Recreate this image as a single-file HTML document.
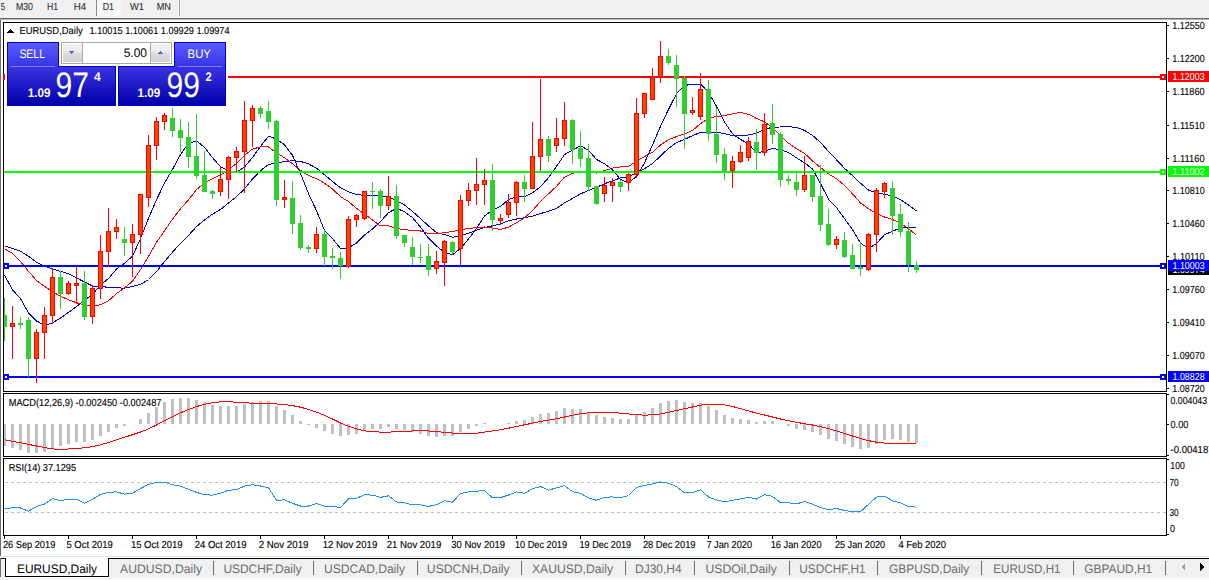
<!DOCTYPE html>
<html><head><meta charset="utf-8"><style>
html,body{margin:0;padding:0;width:1209px;height:580px;overflow:hidden;background:#fff;}
svg{display:block;font-family:"Liberation Sans",sans-serif;text-rendering:geometricPrecision;}
</style></head><body>
<svg width="1209" height="580" viewBox="0 0 1209 580" shape-rendering="crispEdges">
<rect x="0" y="0" width="1209" height="580" fill="#ffffff"/>
<rect x="0" y="0" width="1209" height="18" fill="#f0f0f0"/>
<rect x="97" y="0" width="24" height="16" fill="#f7f7f7"/>
<rect x="96" y="0" width="1" height="16" fill="#8a8a8a"/>
<rect x="179" y="0" width="1" height="16" fill="#a8a8a8"/>
<rect x="0" y="18" width="1209" height="1" fill="#6a6a6a"/>
<rect x="0" y="19" width="1209" height="1" fill="#b4b4b4"/>
<text x="0.7" y="10" font-size="10.2" fill="#333333" textLength="4.3" lengthAdjust="spacingAndGlyphs" stroke="#333333" stroke-width="0.12">5</text>
<text x="15.9" y="10" font-size="10.2" fill="#333333" textLength="17.1" lengthAdjust="spacingAndGlyphs" stroke="#333333" stroke-width="0.12">M30</text>
<text x="46.9" y="10" font-size="10.2" fill="#333333" textLength="11.1" lengthAdjust="spacingAndGlyphs" stroke="#333333" stroke-width="0.12">H1</text>
<text x="73.7" y="10" font-size="10.2" fill="#333333" textLength="12.3" lengthAdjust="spacingAndGlyphs" stroke="#333333" stroke-width="0.12">H4</text>
<text x="102.7" y="10" font-size="10.2" fill="#333333" textLength="11.3" lengthAdjust="spacingAndGlyphs" stroke="#333333" stroke-width="0.12">D1</text>
<text x="130" y="10" font-size="10.2" fill="#333333" textLength="14" lengthAdjust="spacingAndGlyphs" stroke="#333333" stroke-width="0.12">W1</text>
<text x="156.7" y="10" font-size="10.2" fill="#333333" textLength="14.3" lengthAdjust="spacingAndGlyphs" stroke="#333333" stroke-width="0.12">MN</text>
<rect x="0" y="20" width="1" height="536" fill="#6e6e6e"/>
<rect x="3" y="22" width="1164" height="1" fill="#000"/>
<rect x="3" y="391" width="1164" height="1" fill="#000"/>
<rect x="3" y="22" width="1" height="370" fill="#000"/>
<rect x="1166" y="22" width="1" height="370" fill="#000"/>
<rect x="3" y="393" width="1164" height="1" fill="#000"/>
<rect x="3" y="456" width="1164" height="1" fill="#000"/>
<rect x="3" y="393" width="1" height="64" fill="#000"/>
<rect x="1166" y="393" width="1" height="64" fill="#000"/>
<rect x="3" y="458" width="1164" height="1" fill="#000"/>
<rect x="3" y="535" width="1164" height="1" fill="#000"/>
<rect x="3" y="458" width="1" height="78" fill="#000"/>
<rect x="1166" y="458" width="1" height="78" fill="#000"/>
<rect x="1167" y="25" width="2" height="1" fill="#000"/>
<text x="1172.3" y="29" font-size="10.2" fill="#000" textLength="32.3" lengthAdjust="spacingAndGlyphs" stroke="#000" stroke-width="0.12">1.12550</text>
<rect x="1167" y="58" width="2" height="1" fill="#000"/>
<text x="1172.3" y="62" font-size="10.2" fill="#000" textLength="32.3" lengthAdjust="spacingAndGlyphs" stroke="#000" stroke-width="0.12">1.12200</text>
<rect x="1167" y="91" width="2" height="1" fill="#000"/>
<text x="1172.3" y="95" font-size="10.2" fill="#000" textLength="32.3" lengthAdjust="spacingAndGlyphs" stroke="#000" stroke-width="0.12">1.11860</text>
<rect x="1167" y="125" width="2" height="1" fill="#000"/>
<text x="1172.3" y="129" font-size="10.2" fill="#000" textLength="32.3" lengthAdjust="spacingAndGlyphs" stroke="#000" stroke-width="0.12">1.11510</text>
<rect x="1167" y="158" width="2" height="1" fill="#000"/>
<text x="1172.3" y="162" font-size="10.2" fill="#000" textLength="32.3" lengthAdjust="spacingAndGlyphs" stroke="#000" stroke-width="0.12">1.11160</text>
<rect x="1167" y="190" width="2" height="1" fill="#000"/>
<text x="1172.3" y="194" font-size="10.2" fill="#000" textLength="32.3" lengthAdjust="spacingAndGlyphs" stroke="#000" stroke-width="0.12">1.10810</text>
<rect x="1167" y="223" width="2" height="1" fill="#000"/>
<text x="1172.3" y="227" font-size="10.2" fill="#000" textLength="32.3" lengthAdjust="spacingAndGlyphs" stroke="#000" stroke-width="0.12">1.10460</text>
<rect x="1167" y="256" width="2" height="1" fill="#000"/>
<text x="1172.3" y="260" font-size="10.2" fill="#000" textLength="32.3" lengthAdjust="spacingAndGlyphs" stroke="#000" stroke-width="0.12">1.10110</text>
<rect x="1167" y="289" width="2" height="1" fill="#000"/>
<text x="1172.3" y="293" font-size="10.2" fill="#000" textLength="32.3" lengthAdjust="spacingAndGlyphs" stroke="#000" stroke-width="0.12">1.09760</text>
<rect x="1167" y="322" width="2" height="1" fill="#000"/>
<text x="1172.3" y="326" font-size="10.2" fill="#000" textLength="32.3" lengthAdjust="spacingAndGlyphs" stroke="#000" stroke-width="0.12">1.09410</text>
<rect x="1167" y="355" width="2" height="1" fill="#000"/>
<text x="1172.3" y="359" font-size="10.2" fill="#000" textLength="32.3" lengthAdjust="spacingAndGlyphs" stroke="#000" stroke-width="0.12">1.09070</text>
<rect x="1167" y="388" width="2" height="1" fill="#000"/>
<text x="1172.3" y="392" font-size="10.2" fill="#000" textLength="32.3" lengthAdjust="spacingAndGlyphs" stroke="#000" stroke-width="0.12">1.08720</text>
<rect x="4" y="536" width="1" height="3" fill="#000"/>
<text x="2.9000000000000004" y="548" font-size="10.2" fill="#000" textLength="52.4" lengthAdjust="spacingAndGlyphs" stroke="#000" stroke-width="0.12">26 Sep 2019</text>
<rect x="68" y="536" width="1" height="3" fill="#000"/>
<text x="66.4" y="548" font-size="10.2" fill="#000" textLength="46.5" lengthAdjust="spacingAndGlyphs" stroke="#000" stroke-width="0.12">5 Oct 2019</text>
<rect x="132" y="536" width="1" height="3" fill="#000"/>
<text x="130.89999999999998" y="548" font-size="10.2" fill="#000" textLength="51.6" lengthAdjust="spacingAndGlyphs" stroke="#000" stroke-width="0.12">15 Oct 2019</text>
<rect x="196" y="536" width="1" height="3" fill="#000"/>
<text x="194.7" y="548" font-size="10.2" fill="#000" textLength="51.8" lengthAdjust="spacingAndGlyphs" stroke="#000" stroke-width="0.12">24 Oct 2019</text>
<rect x="260" y="536" width="1" height="3" fill="#000"/>
<text x="258.7" y="548" font-size="10.2" fill="#000" textLength="49.8" lengthAdjust="spacingAndGlyphs" stroke="#000" stroke-width="0.12">2 Nov 2019</text>
<rect x="324" y="536" width="1" height="3" fill="#000"/>
<text x="322.7" y="548" font-size="10.2" fill="#000" textLength="54.6" lengthAdjust="spacingAndGlyphs" stroke="#000" stroke-width="0.12">12 Nov 2019</text>
<rect x="388" y="536" width="1" height="3" fill="#000"/>
<text x="386.7" y="548" font-size="10.2" fill="#000" textLength="54.6" lengthAdjust="spacingAndGlyphs" stroke="#000" stroke-width="0.12">21 Nov 2019</text>
<rect x="452" y="536" width="1" height="3" fill="#000"/>
<text x="451.2" y="548" font-size="10.2" fill="#000" textLength="53.9" lengthAdjust="spacingAndGlyphs" stroke="#000" stroke-width="0.12">30 Nov 2019</text>
<rect x="516" y="536" width="1" height="3" fill="#000"/>
<text x="514.9000000000001" y="548" font-size="10.2" fill="#000" textLength="52.2" lengthAdjust="spacingAndGlyphs" stroke="#000" stroke-width="0.12">10 Dec 2019</text>
<rect x="580" y="536" width="1" height="3" fill="#000"/>
<text x="579.5" y="548" font-size="10.2" fill="#000" textLength="51.6" lengthAdjust="spacingAndGlyphs" stroke="#000" stroke-width="0.12">19 Dec 2019</text>
<rect x="644" y="536" width="1" height="3" fill="#000"/>
<text x="642.9000000000001" y="548" font-size="10.2" fill="#000" textLength="52.6" lengthAdjust="spacingAndGlyphs" stroke="#000" stroke-width="0.12">28 Dec 2019</text>
<rect x="708" y="536" width="1" height="3" fill="#000"/>
<text x="706.4000000000001" y="548" font-size="10.2" fill="#000" textLength="45.7" lengthAdjust="spacingAndGlyphs" stroke="#000" stroke-width="0.12">7 Jan 2020</text>
<rect x="772" y="536" width="1" height="3" fill="#000"/>
<text x="770.7" y="548" font-size="10.2" fill="#000" textLength="51.0" lengthAdjust="spacingAndGlyphs" stroke="#000" stroke-width="0.12">16 Jan 2020</text>
<rect x="836" y="536" width="1" height="3" fill="#000"/>
<text x="834.9000000000001" y="548" font-size="10.2" fill="#000" textLength="50.3" lengthAdjust="spacingAndGlyphs" stroke="#000" stroke-width="0.12">25 Jan 2020</text>
<rect x="900" y="536" width="1" height="3" fill="#000"/>
<text x="898.4000000000001" y="548" font-size="10.2" fill="#000" textLength="47.7" lengthAdjust="spacingAndGlyphs" stroke="#000" stroke-width="0.12">4 Feb 2020</text>
<clipPath id="cm"><rect x="4" y="23" width="1162" height="368"/></clipPath><clipPath id="cd"><rect x="4" y="394" width="1162" height="62"/></clipPath><clipPath id="cr"><rect x="4" y="459" width="1162" height="76"/></clipPath>
<g clip-path="url(#cm)">
<polyline points="4.5,245.7 12.5,248.5 20.5,251.3 28.5,256.2 36.5,262.2 44.5,266.0 52.5,269.0 60.5,271.4 68.5,273.7 76.5,277.9 84.5,282.0 92.5,286.0 100.5,286.7 108.5,287.2 116.5,287.8 124.5,288.2 132.5,286.4 140.5,284.5 148.5,279.5 156.5,271.6 164.5,261.5 172.5,252.2 180.5,243.3 188.5,235.4 196.5,226.6 204.5,219.9 212.5,214.1 220.5,209.5 228.5,203.0 236.5,196.7 244.5,188.9 252.5,179.0 260.5,170.7 268.5,164.5 276.5,163.0 284.5,161.6 292.5,160.7 300.5,161.4 308.5,163.9 316.5,168.2 324.5,174.7 332.5,181.5 340.5,187.9 348.5,191.8 356.5,194.6 364.5,195.3 372.5,195.4 380.5,196.0 388.5,196.8 396.5,200.5 404.5,204.9 412.5,211.4 420.5,218.5 428.5,225.9 436.5,232.6 444.5,234.6 452.5,237.2 460.5,236.0 468.5,233.2 476.5,230.2 484.5,227.6 492.5,225.8 500.5,223.9 508.5,220.8 516.5,219.0 524.5,217.8 532.5,216.1 540.5,213.6 548.5,211.2 556.5,208.4 564.5,202.9 572.5,198.5 580.5,193.9 588.5,190.5 596.5,187.4 604.5,183.7 612.5,180.9 620.5,177.9 628.5,176.6 636.5,173.0 644.5,168.6 652.5,163.7 660.5,155.9 668.5,148.5 676.5,142.6 684.5,139.4 692.5,135.6 700.5,132.4 708.5,132.2 716.5,132.2 724.5,133.7 732.5,135.7 740.5,135.8 748.5,135.0 756.5,133.3 764.5,129.5 772.5,127.1 780.5,127.0 788.5,126.7 796.5,127.5 804.5,130.4 812.5,135.4 820.5,142.4 828.5,151.4 836.5,159.8 844.5,168.3 852.5,175.7 860.5,183.2 868.5,190.1 876.5,192.8 884.5,194.2 892.5,196.3 900.5,199.6 908.5,205.0 916.5,211.1" fill="none" stroke="#0000cd" stroke-width="1"/>
<polyline points="4.5,248.9 12.5,253.5 20.5,261.6 28.5,271.3 36.5,280.4 44.5,286.4 52.5,291.7 60.5,296.3 68.5,299.8 76.5,302.7 84.5,305.1 92.5,306.0 100.5,304.8 108.5,300.7 116.5,293.6 124.5,287.8 132.5,281.3 140.5,269.6 148.5,256.3 156.5,242.4 164.5,230.8 172.5,219.2 180.5,208.8 188.5,199.8 196.5,189.7 204.5,182.8 212.5,178.7 220.5,174.9 228.5,169.9 236.5,163.4 244.5,155.3 252.5,149.1 260.5,146.9 268.5,146.9 276.5,152.9 284.5,157.7 292.5,163.8 300.5,170.4 308.5,175.5 316.5,178.6 324.5,183.2 332.5,188.9 340.5,196.7 348.5,201.5 356.5,208.3 364.5,214.2 372.5,219.9 380.5,225.9 388.5,225.7 396.5,228.4 404.5,229.8 412.5,230.3 420.5,231.0 428.5,233.5 436.5,233.8 444.5,232.6 452.5,231.5 460.5,230.1 468.5,228.3 476.5,227.8 484.5,227.0 492.5,227.9 500.5,229.5 508.5,227.1 516.5,222.7 524.5,217.9 532.5,210.6 540.5,201.3 548.5,193.8 556.5,186.4 564.5,177.1 572.5,173.5 580.5,171.3 588.5,171.4 596.5,173.1 604.5,170.6 612.5,168.1 620.5,167.0 628.5,166.5 636.5,161.1 644.5,156.6 652.5,152.2 660.5,145.0 668.5,139.6 676.5,136.6 684.5,134.0 692.5,130.5 700.5,123.6 708.5,118.6 716.5,116.4 724.5,115.7 732.5,113.8 740.5,112.3 748.5,114.3 756.5,118.5 764.5,121.8 772.5,127.4 780.5,135.9 788.5,143.2 796.5,148.6 804.5,153.3 812.5,161.0 820.5,167.5 828.5,173.9 836.5,178.7 844.5,185.5 852.5,193.8 860.5,202.9 868.5,208.8 876.5,213.5 884.5,217.0 892.5,219.5 900.5,223.2 908.5,228.6 916.5,235.3" fill="none" stroke="#ff0000" stroke-width="1"/>
<polyline points="4.5,275.1 12.5,289.9 20.5,298.6 28.5,313.0 36.5,321.0 44.5,325.3 52.5,322.8 60.5,318.1 68.5,312.4 76.5,306.5 84.5,300.5 92.5,294.2 100.5,285.1 108.5,278.5 116.5,269.0 124.5,263.2 132.5,256.2 140.5,238.6 148.5,218.3 156.5,199.7 164.5,183.1 172.5,169.4 180.5,154.5 188.5,143.4 196.5,140.8 204.5,147.3 212.5,157.6 220.5,166.8 228.5,170.5 236.5,172.4 244.5,167.1 252.5,157.5 260.5,146.4 268.5,136.2 276.5,139.1 284.5,144.8 292.5,155.3 300.5,173.6 308.5,193.6 316.5,210.8 324.5,230.2 332.5,238.6 340.5,248.5 348.5,247.8 356.5,243.0 364.5,234.9 372.5,228.9 380.5,221.6 388.5,212.7 396.5,208.3 404.5,211.7 412.5,217.6 420.5,227.2 428.5,238.1 436.5,246.0 444.5,252.5 452.5,254.7 460.5,248.6 468.5,239.0 476.5,228.5 484.5,215.9 492.5,209.9 500.5,206.5 508.5,199.5 516.5,196.8 524.5,196.7 532.5,192.7 540.5,186.8 548.5,177.7 556.5,166.4 564.5,154.6 572.5,150.1 580.5,145.8 588.5,150.2 596.5,159.5 604.5,163.6 612.5,169.8 620.5,179.5 628.5,182.9 636.5,176.3 644.5,163.0 652.5,144.9 660.5,126.5 668.5,109.4 676.5,93.8 684.5,85.2 692.5,84.7 700.5,84.1 708.5,92.3 716.5,106.4 724.5,122.0 732.5,133.8 740.5,139.4 748.5,143.8 756.5,152.9 764.5,151.4 772.5,148.5 780.5,149.7 788.5,152.5 796.5,157.9 804.5,162.8 812.5,169.0 820.5,183.5 828.5,199.2 836.5,207.6 844.5,218.6 852.5,229.7 860.5,243.1 868.5,248.5 876.5,243.5 884.5,234.7 892.5,231.4 900.5,227.8 908.5,227.4 916.5,227.5" fill="none" stroke="#0000cd" stroke-width="1"/>
</g>
<rect x="4" y="76" width="1162" height="2" fill="#ff0000"/>
<rect x="1160" y="74" width="6" height="6" fill="#ff0000"/>
<rect x="1162" y="76" width="2" height="2" fill="#fff"/>
<rect x="1168" y="71" width="41" height="11" fill="#ff0000"/>
<text x="1172.5" y="80" font-size="10.2" fill="#fff" textLength="32.1" lengthAdjust="spacingAndGlyphs">1.12003</text>
<rect x="4" y="171" width="1162" height="2" fill="#00ff00"/>
<rect x="1160" y="169" width="6" height="6" fill="#00ff00"/>
<rect x="1162" y="171" width="2" height="2" fill="#fff"/>
<rect x="1168" y="166" width="41" height="11" fill="#00ff00"/>
<text x="1172.5" y="175" font-size="10.2" fill="#fff" textLength="32.1" lengthAdjust="spacingAndGlyphs">1.11002</text>
<rect x="1168" y="264" width="41" height="11" fill="#000"/>
<text x="1172.5" y="273" font-size="10.2" fill="#fff" textLength="32.1" lengthAdjust="spacingAndGlyphs">1.09974</text>
<rect x="4" y="265" width="1162" height="2" fill="#0000ff"/>
<rect x="1160" y="263" width="6" height="6" fill="#0000ff"/>
<rect x="1162" y="265" width="2" height="2" fill="#fff"/>
<rect x="1168" y="260" width="41" height="11" fill="#0000ff"/>
<text x="1172.5" y="269" font-size="10.2" fill="#fff" textLength="32.1" lengthAdjust="spacingAndGlyphs">1.10003</text>
<rect x="4" y="376" width="1162" height="2" fill="#0000ff"/>
<rect x="1160" y="374" width="6" height="6" fill="#0000ff"/>
<rect x="1162" y="376" width="2" height="2" fill="#fff"/>
<rect x="1168" y="371" width="41" height="11" fill="#0000ff"/>
<text x="1172.5" y="380" font-size="10.2" fill="#fff" textLength="32.1" lengthAdjust="spacingAndGlyphs">1.08828</text>
<rect x="3" y="263" width="6" height="6" fill="#0000ff"/>
<rect x="5" y="265" width="2" height="2" fill="#fff"/>
<rect x="3" y="374" width="6" height="6" fill="#0000ff"/>
<rect x="5" y="376" width="2" height="2" fill="#fff"/>
<rect x="3" y="74" width="2" height="6" fill="#ff0000"/>
<g clip-path="url(#cm)">
<rect x="4" y="298" width="1" height="43" fill="#32cd32"/>
<rect x="2" y="315" width="5" height="12" fill="#32cd32"/>
<rect x="12" y="306" width="1" height="53" fill="#ff0000"/>
<rect x="10" y="323" width="5" height="4" fill="#ff0000"/>
<rect x="11" y="324" width="3" height="2" fill="#ff4500"/>
<rect x="20" y="317" width="1" height="12" fill="#32cd32"/>
<rect x="18" y="323" width="5" height="2" fill="#32cd32"/>
<rect x="28" y="317" width="1" height="60" fill="#32cd32"/>
<rect x="26" y="320" width="5" height="39" fill="#32cd32"/>
<rect x="36" y="329" width="1" height="54" fill="#ff0000"/>
<rect x="34" y="332" width="5" height="27" fill="#ff0000"/>
<rect x="35" y="333" width="3" height="25" fill="#ff4500"/>
<rect x="44" y="307" width="1" height="52" fill="#ff0000"/>
<rect x="42" y="315" width="5" height="18" fill="#ff0000"/>
<rect x="43" y="316" width="3" height="16" fill="#ff4500"/>
<rect x="52" y="268" width="1" height="56" fill="#ff0000"/>
<rect x="50" y="277" width="5" height="39" fill="#ff0000"/>
<rect x="51" y="278" width="3" height="37" fill="#ff4500"/>
<rect x="60" y="271" width="1" height="38" fill="#32cd32"/>
<rect x="58" y="277" width="5" height="17" fill="#32cd32"/>
<rect x="68" y="281" width="1" height="14" fill="#ff0000"/>
<rect x="66" y="283" width="5" height="11" fill="#ff0000"/>
<rect x="67" y="284" width="3" height="9" fill="#ff4500"/>
<rect x="76" y="267" width="1" height="37" fill="#ff0000"/>
<rect x="74" y="283" width="5" height="3" fill="#ff0000"/>
<rect x="75" y="284" width="3" height="1" fill="#ff4500"/>
<rect x="84" y="271" width="1" height="49" fill="#32cd32"/>
<rect x="82" y="283" width="5" height="34" fill="#32cd32"/>
<rect x="92" y="285" width="1" height="39" fill="#ff0000"/>
<rect x="90" y="288" width="5" height="29" fill="#ff0000"/>
<rect x="91" y="289" width="3" height="27" fill="#ff4500"/>
<rect x="100" y="235" width="1" height="64" fill="#ff0000"/>
<rect x="98" y="251" width="5" height="38" fill="#ff0000"/>
<rect x="99" y="252" width="3" height="36" fill="#ff4500"/>
<rect x="108" y="208" width="1" height="59" fill="#ff0000"/>
<rect x="106" y="231" width="5" height="21" fill="#ff0000"/>
<rect x="107" y="232" width="3" height="19" fill="#ff4500"/>
<rect x="116" y="219" width="1" height="20" fill="#ff0000"/>
<rect x="114" y="227" width="5" height="5" fill="#ff0000"/>
<rect x="115" y="228" width="3" height="3" fill="#ff4500"/>
<rect x="124" y="227" width="1" height="29" fill="#32cd32"/>
<rect x="122" y="239" width="5" height="4" fill="#32cd32"/>
<rect x="132" y="224" width="1" height="53" fill="#ff0000"/>
<rect x="130" y="234" width="5" height="9" fill="#ff0000"/>
<rect x="131" y="235" width="3" height="7" fill="#ff4500"/>
<rect x="140" y="194" width="1" height="60" fill="#ff0000"/>
<rect x="138" y="194" width="5" height="41" fill="#ff0000"/>
<rect x="139" y="195" width="3" height="39" fill="#ff4500"/>
<rect x="148" y="135" width="1" height="72" fill="#ff0000"/>
<rect x="146" y="145" width="5" height="53" fill="#ff0000"/>
<rect x="147" y="146" width="3" height="51" fill="#ff4500"/>
<rect x="156" y="117" width="1" height="43" fill="#ff0000"/>
<rect x="154" y="121" width="5" height="25" fill="#ff0000"/>
<rect x="155" y="122" width="3" height="23" fill="#ff4500"/>
<rect x="164" y="113" width="1" height="17" fill="#ff0000"/>
<rect x="162" y="115" width="5" height="7" fill="#ff0000"/>
<rect x="163" y="116" width="3" height="5" fill="#ff4500"/>
<rect x="172" y="108" width="1" height="29" fill="#32cd32"/>
<rect x="170" y="118" width="5" height="13" fill="#32cd32"/>
<rect x="180" y="119" width="1" height="33" fill="#32cd32"/>
<rect x="178" y="130" width="5" height="8" fill="#32cd32"/>
<rect x="188" y="122" width="1" height="46" fill="#32cd32"/>
<rect x="186" y="137" width="5" height="20" fill="#32cd32"/>
<rect x="196" y="114" width="1" height="65" fill="#32cd32"/>
<rect x="194" y="156" width="5" height="20" fill="#32cd32"/>
<rect x="204" y="151" width="1" height="41" fill="#32cd32"/>
<rect x="202" y="175" width="5" height="17" fill="#32cd32"/>
<rect x="212" y="190" width="1" height="9" fill="#32cd32"/>
<rect x="210" y="191" width="5" height="3" fill="#32cd32"/>
<rect x="220" y="166" width="1" height="30" fill="#ff0000"/>
<rect x="218" y="179" width="5" height="13" fill="#ff0000"/>
<rect x="219" y="180" width="3" height="11" fill="#ff4500"/>
<rect x="228" y="156" width="1" height="43" fill="#ff0000"/>
<rect x="226" y="157" width="5" height="23" fill="#ff0000"/>
<rect x="227" y="158" width="3" height="21" fill="#ff4500"/>
<rect x="236" y="147" width="1" height="25" fill="#ff0000"/>
<rect x="234" y="151" width="5" height="7" fill="#ff0000"/>
<rect x="235" y="152" width="3" height="5" fill="#ff4500"/>
<rect x="244" y="101" width="1" height="92" fill="#ff0000"/>
<rect x="242" y="120" width="5" height="32" fill="#ff0000"/>
<rect x="243" y="121" width="3" height="30" fill="#ff4500"/>
<rect x="252" y="105" width="1" height="42" fill="#ff0000"/>
<rect x="250" y="108" width="5" height="13" fill="#ff0000"/>
<rect x="251" y="109" width="3" height="11" fill="#ff4500"/>
<rect x="260" y="106" width="1" height="12" fill="#32cd32"/>
<rect x="258" y="108" width="5" height="6" fill="#32cd32"/>
<rect x="268" y="101" width="1" height="28" fill="#32cd32"/>
<rect x="266" y="111" width="5" height="11" fill="#32cd32"/>
<rect x="276" y="120" width="1" height="86" fill="#32cd32"/>
<rect x="274" y="121" width="5" height="79" fill="#32cd32"/>
<rect x="284" y="180" width="1" height="28" fill="#ff0000"/>
<rect x="282" y="197" width="5" height="3" fill="#ff0000"/>
<rect x="283" y="198" width="3" height="1" fill="#ff4500"/>
<rect x="292" y="181" width="1" height="53" fill="#32cd32"/>
<rect x="290" y="198" width="5" height="26" fill="#32cd32"/>
<rect x="300" y="215" width="1" height="35" fill="#32cd32"/>
<rect x="298" y="223" width="5" height="25" fill="#32cd32"/>
<rect x="308" y="245" width="1" height="8" fill="#32cd32"/>
<rect x="306" y="247" width="5" height="2" fill="#32cd32"/>
<rect x="316" y="227" width="1" height="26" fill="#ff0000"/>
<rect x="314" y="234" width="5" height="15" fill="#ff0000"/>
<rect x="315" y="235" width="3" height="13" fill="#ff4500"/>
<rect x="324" y="230" width="1" height="36" fill="#32cd32"/>
<rect x="322" y="234" width="5" height="23" fill="#32cd32"/>
<rect x="332" y="248" width="1" height="21" fill="#32cd32"/>
<rect x="330" y="256" width="5" height="2" fill="#32cd32"/>
<rect x="340" y="252" width="1" height="27" fill="#32cd32"/>
<rect x="338" y="258" width="5" height="8" fill="#32cd32"/>
<rect x="348" y="216" width="1" height="52" fill="#ff0000"/>
<rect x="346" y="219" width="5" height="48" fill="#ff0000"/>
<rect x="347" y="220" width="3" height="46" fill="#ff4500"/>
<rect x="356" y="214" width="1" height="13" fill="#ff0000"/>
<rect x="354" y="215" width="5" height="5" fill="#ff0000"/>
<rect x="355" y="216" width="3" height="3" fill="#ff4500"/>
<rect x="364" y="191" width="1" height="29" fill="#ff0000"/>
<rect x="362" y="191" width="5" height="28" fill="#ff0000"/>
<rect x="363" y="192" width="3" height="26" fill="#ff4500"/>
<rect x="372" y="182" width="1" height="27" fill="#32cd32"/>
<rect x="370" y="191" width="5" height="1" fill="#32cd32"/>
<rect x="380" y="189" width="1" height="29" fill="#32cd32"/>
<rect x="378" y="191" width="5" height="15" fill="#32cd32"/>
<rect x="388" y="176" width="1" height="34" fill="#ff0000"/>
<rect x="386" y="196" width="5" height="10" fill="#ff0000"/>
<rect x="387" y="197" width="3" height="8" fill="#ff4500"/>
<rect x="396" y="185" width="1" height="54" fill="#32cd32"/>
<rect x="394" y="196" width="5" height="40" fill="#32cd32"/>
<rect x="404" y="235" width="1" height="12" fill="#32cd32"/>
<rect x="402" y="235" width="5" height="8" fill="#32cd32"/>
<rect x="412" y="237" width="1" height="28" fill="#32cd32"/>
<rect x="410" y="247" width="5" height="10" fill="#32cd32"/>
<rect x="420" y="244" width="1" height="19" fill="#32cd32"/>
<rect x="418" y="257" width="5" height="1" fill="#32cd32"/>
<rect x="428" y="244" width="1" height="32" fill="#32cd32"/>
<rect x="426" y="256" width="5" height="14" fill="#32cd32"/>
<rect x="436" y="251" width="1" height="23" fill="#ff0000"/>
<rect x="434" y="261" width="5" height="8" fill="#ff0000"/>
<rect x="435" y="262" width="3" height="6" fill="#ff4500"/>
<rect x="444" y="240" width="1" height="46" fill="#ff0000"/>
<rect x="442" y="241" width="5" height="22" fill="#ff0000"/>
<rect x="443" y="242" width="3" height="20" fill="#ff4500"/>
<rect x="452" y="241" width="1" height="14" fill="#32cd32"/>
<rect x="450" y="242" width="5" height="10" fill="#32cd32"/>
<rect x="460" y="195" width="1" height="71" fill="#ff0000"/>
<rect x="458" y="200" width="5" height="49" fill="#ff0000"/>
<rect x="459" y="201" width="3" height="47" fill="#ff4500"/>
<rect x="468" y="183" width="1" height="23" fill="#ff0000"/>
<rect x="466" y="190" width="5" height="11" fill="#ff0000"/>
<rect x="467" y="191" width="3" height="9" fill="#ff4500"/>
<rect x="476" y="158" width="1" height="47" fill="#ff0000"/>
<rect x="474" y="184" width="5" height="7" fill="#ff0000"/>
<rect x="475" y="185" width="3" height="5" fill="#ff4500"/>
<rect x="484" y="169" width="1" height="36" fill="#ff0000"/>
<rect x="482" y="180" width="5" height="5" fill="#ff0000"/>
<rect x="483" y="181" width="3" height="3" fill="#ff4500"/>
<rect x="492" y="164" width="1" height="67" fill="#32cd32"/>
<rect x="490" y="180" width="5" height="40" fill="#32cd32"/>
<rect x="500" y="214" width="1" height="11" fill="#ff0000"/>
<rect x="498" y="218" width="5" height="3" fill="#ff0000"/>
<rect x="499" y="219" width="3" height="1" fill="#ff4500"/>
<rect x="508" y="194" width="1" height="24" fill="#ff0000"/>
<rect x="506" y="202" width="5" height="13" fill="#ff0000"/>
<rect x="507" y="203" width="3" height="11" fill="#ff4500"/>
<rect x="516" y="181" width="1" height="35" fill="#ff0000"/>
<rect x="514" y="182" width="5" height="21" fill="#ff0000"/>
<rect x="515" y="183" width="3" height="19" fill="#ff4500"/>
<rect x="524" y="175" width="1" height="27" fill="#32cd32"/>
<rect x="522" y="182" width="5" height="7" fill="#32cd32"/>
<rect x="532" y="122" width="1" height="67" fill="#ff0000"/>
<rect x="530" y="156" width="5" height="33" fill="#ff0000"/>
<rect x="531" y="157" width="3" height="31" fill="#ff4500"/>
<rect x="540" y="79" width="1" height="92" fill="#ff0000"/>
<rect x="538" y="139" width="5" height="18" fill="#ff0000"/>
<rect x="539" y="140" width="3" height="16" fill="#ff4500"/>
<rect x="548" y="136" width="1" height="26" fill="#32cd32"/>
<rect x="546" y="139" width="5" height="17" fill="#32cd32"/>
<rect x="556" y="118" width="1" height="34" fill="#ff0000"/>
<rect x="554" y="138" width="5" height="8" fill="#ff0000"/>
<rect x="555" y="139" width="3" height="6" fill="#ff4500"/>
<rect x="564" y="102" width="1" height="44" fill="#ff0000"/>
<rect x="562" y="120" width="5" height="19" fill="#ff0000"/>
<rect x="563" y="121" width="3" height="17" fill="#ff4500"/>
<rect x="572" y="119" width="1" height="45" fill="#32cd32"/>
<rect x="570" y="120" width="5" height="30" fill="#32cd32"/>
<rect x="580" y="131" width="1" height="36" fill="#32cd32"/>
<rect x="578" y="148" width="5" height="11" fill="#32cd32"/>
<rect x="588" y="144" width="1" height="47" fill="#32cd32"/>
<rect x="586" y="158" width="5" height="29" fill="#32cd32"/>
<rect x="596" y="186" width="1" height="19" fill="#32cd32"/>
<rect x="594" y="186" width="5" height="18" fill="#32cd32"/>
<rect x="604" y="177" width="1" height="25" fill="#ff0000"/>
<rect x="602" y="185" width="5" height="9" fill="#ff0000"/>
<rect x="603" y="186" width="3" height="7" fill="#ff4500"/>
<rect x="612" y="178" width="1" height="24" fill="#ff0000"/>
<rect x="610" y="182" width="5" height="4" fill="#ff0000"/>
<rect x="611" y="183" width="3" height="2" fill="#ff4500"/>
<rect x="620" y="180" width="1" height="12" fill="#32cd32"/>
<rect x="618" y="182" width="5" height="5" fill="#32cd32"/>
<rect x="628" y="173" width="1" height="18" fill="#ff0000"/>
<rect x="626" y="174" width="5" height="9" fill="#ff0000"/>
<rect x="627" y="175" width="3" height="7" fill="#ff4500"/>
<rect x="636" y="98" width="1" height="80" fill="#ff0000"/>
<rect x="634" y="113" width="5" height="62" fill="#ff0000"/>
<rect x="635" y="114" width="3" height="60" fill="#ff4500"/>
<rect x="644" y="93" width="1" height="25" fill="#ff0000"/>
<rect x="642" y="93" width="5" height="21" fill="#ff0000"/>
<rect x="643" y="94" width="3" height="19" fill="#ff4500"/>
<rect x="652" y="68" width="1" height="32" fill="#ff0000"/>
<rect x="650" y="77" width="5" height="23" fill="#ff0000"/>
<rect x="651" y="78" width="3" height="21" fill="#ff4500"/>
<rect x="660" y="41" width="1" height="42" fill="#ff0000"/>
<rect x="658" y="56" width="5" height="21" fill="#ff0000"/>
<rect x="659" y="57" width="3" height="19" fill="#ff4500"/>
<rect x="668" y="49" width="1" height="16" fill="#32cd32"/>
<rect x="666" y="56" width="5" height="7" fill="#32cd32"/>
<rect x="676" y="55" width="1" height="52" fill="#32cd32"/>
<rect x="674" y="65" width="5" height="14" fill="#32cd32"/>
<rect x="684" y="76" width="1" height="73" fill="#32cd32"/>
<rect x="682" y="78" width="5" height="36" fill="#32cd32"/>
<rect x="692" y="97" width="1" height="18" fill="#ff0000"/>
<rect x="690" y="110" width="5" height="3" fill="#ff0000"/>
<rect x="691" y="111" width="3" height="1" fill="#ff4500"/>
<rect x="700" y="73" width="1" height="47" fill="#ff0000"/>
<rect x="698" y="89" width="5" height="28" fill="#ff0000"/>
<rect x="699" y="90" width="3" height="26" fill="#ff4500"/>
<rect x="708" y="80" width="1" height="61" fill="#32cd32"/>
<rect x="706" y="89" width="5" height="45" fill="#32cd32"/>
<rect x="716" y="108" width="1" height="55" fill="#32cd32"/>
<rect x="714" y="134" width="5" height="21" fill="#32cd32"/>
<rect x="724" y="148" width="1" height="32" fill="#32cd32"/>
<rect x="722" y="154" width="5" height="18" fill="#32cd32"/>
<rect x="732" y="156" width="1" height="32" fill="#ff0000"/>
<rect x="730" y="161" width="5" height="10" fill="#ff0000"/>
<rect x="731" y="162" width="3" height="8" fill="#ff4500"/>
<rect x="740" y="145" width="1" height="18" fill="#ff0000"/>
<rect x="738" y="152" width="5" height="10" fill="#ff0000"/>
<rect x="739" y="153" width="3" height="8" fill="#ff4500"/>
<rect x="748" y="137" width="1" height="24" fill="#ff0000"/>
<rect x="746" y="141" width="5" height="17" fill="#ff0000"/>
<rect x="747" y="142" width="3" height="15" fill="#ff4500"/>
<rect x="756" y="129" width="1" height="41" fill="#32cd32"/>
<rect x="754" y="142" width="5" height="11" fill="#32cd32"/>
<rect x="764" y="113" width="1" height="43" fill="#ff0000"/>
<rect x="762" y="124" width="5" height="29" fill="#ff0000"/>
<rect x="763" y="125" width="3" height="27" fill="#ff4500"/>
<rect x="772" y="104" width="1" height="40" fill="#32cd32"/>
<rect x="770" y="123" width="5" height="12" fill="#32cd32"/>
<rect x="780" y="132" width="1" height="55" fill="#32cd32"/>
<rect x="778" y="134" width="5" height="46" fill="#32cd32"/>
<rect x="788" y="175" width="1" height="10" fill="#32cd32"/>
<rect x="786" y="179" width="5" height="2" fill="#32cd32"/>
<rect x="796" y="171" width="1" height="25" fill="#32cd32"/>
<rect x="794" y="182" width="5" height="8" fill="#32cd32"/>
<rect x="804" y="156" width="1" height="36" fill="#ff0000"/>
<rect x="802" y="175" width="5" height="15" fill="#ff0000"/>
<rect x="803" y="176" width="3" height="13" fill="#ff4500"/>
<rect x="812" y="175" width="1" height="27" fill="#32cd32"/>
<rect x="810" y="175" width="5" height="22" fill="#32cd32"/>
<rect x="820" y="165" width="1" height="66" fill="#32cd32"/>
<rect x="818" y="196" width="5" height="29" fill="#32cd32"/>
<rect x="828" y="209" width="1" height="37" fill="#32cd32"/>
<rect x="826" y="224" width="5" height="21" fill="#32cd32"/>
<rect x="836" y="236" width="1" height="13" fill="#ff0000"/>
<rect x="834" y="239" width="5" height="6" fill="#ff0000"/>
<rect x="835" y="240" width="3" height="4" fill="#ff4500"/>
<rect x="844" y="232" width="1" height="26" fill="#32cd32"/>
<rect x="842" y="240" width="5" height="17" fill="#32cd32"/>
<rect x="852" y="244" width="1" height="24" fill="#32cd32"/>
<rect x="850" y="255" width="5" height="14" fill="#32cd32"/>
<rect x="860" y="242" width="1" height="34" fill="#32cd32"/>
<rect x="858" y="267" width="5" height="2" fill="#32cd32"/>
<rect x="868" y="233" width="1" height="38" fill="#ff0000"/>
<rect x="866" y="234" width="5" height="36" fill="#ff0000"/>
<rect x="867" y="235" width="3" height="34" fill="#ff4500"/>
<rect x="876" y="188" width="1" height="64" fill="#ff0000"/>
<rect x="874" y="190" width="5" height="45" fill="#ff0000"/>
<rect x="875" y="191" width="3" height="43" fill="#ff4500"/>
<rect x="884" y="182" width="1" height="16" fill="#ff0000"/>
<rect x="882" y="183" width="5" height="9" fill="#ff0000"/>
<rect x="883" y="184" width="3" height="7" fill="#ff4500"/>
<rect x="892" y="181" width="1" height="54" fill="#32cd32"/>
<rect x="890" y="188" width="5" height="28" fill="#32cd32"/>
<rect x="900" y="204" width="1" height="33" fill="#32cd32"/>
<rect x="898" y="214" width="5" height="18" fill="#32cd32"/>
<rect x="908" y="222" width="1" height="50" fill="#32cd32"/>
<rect x="906" y="231" width="5" height="34" fill="#32cd32"/>
<rect x="916" y="261" width="1" height="12" fill="#32cd32"/>
<rect x="914" y="265" width="5" height="5" fill="#32cd32"/>
</g>
<g clip-path="url(#cd)">
<rect x="3" y="424" width="3" height="22" fill="#c0c0c0"/>
<rect x="11" y="424" width="3" height="24" fill="#c0c0c0"/>
<rect x="19" y="424" width="3" height="26" fill="#c0c0c0"/>
<rect x="27" y="424" width="3" height="29" fill="#c0c0c0"/>
<rect x="35" y="424" width="3" height="29" fill="#c0c0c0"/>
<rect x="43" y="424" width="3" height="28" fill="#c0c0c0"/>
<rect x="51" y="424" width="3" height="24" fill="#c0c0c0"/>
<rect x="59" y="424" width="3" height="22" fill="#c0c0c0"/>
<rect x="67" y="424" width="3" height="20" fill="#c0c0c0"/>
<rect x="75" y="424" width="3" height="18" fill="#c0c0c0"/>
<rect x="83" y="424" width="3" height="18" fill="#c0c0c0"/>
<rect x="91" y="424" width="3" height="16" fill="#c0c0c0"/>
<rect x="99" y="424" width="3" height="12" fill="#c0c0c0"/>
<rect x="107" y="424" width="3" height="8" fill="#c0c0c0"/>
<rect x="115" y="424" width="3" height="4" fill="#c0c0c0"/>
<rect x="123" y="424" width="3" height="2" fill="#c0c0c0"/>
<rect x="139" y="419" width="3" height="5" fill="#c0c0c0"/>
<rect x="147" y="413" width="3" height="11" fill="#c0c0c0"/>
<rect x="155" y="407" width="3" height="17" fill="#c0c0c0"/>
<rect x="163" y="402" width="3" height="22" fill="#c0c0c0"/>
<rect x="171" y="399" width="3" height="25" fill="#c0c0c0"/>
<rect x="179" y="398" width="3" height="26" fill="#c0c0c0"/>
<rect x="187" y="398" width="3" height="26" fill="#c0c0c0"/>
<rect x="195" y="400" width="3" height="24" fill="#c0c0c0"/>
<rect x="203" y="402" width="3" height="22" fill="#c0c0c0"/>
<rect x="211" y="405" width="3" height="19" fill="#c0c0c0"/>
<rect x="219" y="406" width="3" height="18" fill="#c0c0c0"/>
<rect x="227" y="406" width="3" height="18" fill="#c0c0c0"/>
<rect x="235" y="406" width="3" height="18" fill="#c0c0c0"/>
<rect x="243" y="404" width="3" height="20" fill="#c0c0c0"/>
<rect x="251" y="402" width="3" height="22" fill="#c0c0c0"/>
<rect x="259" y="401" width="3" height="23" fill="#c0c0c0"/>
<rect x="267" y="401" width="3" height="23" fill="#c0c0c0"/>
<rect x="275" y="406" width="3" height="18" fill="#c0c0c0"/>
<rect x="283" y="410" width="3" height="14" fill="#c0c0c0"/>
<rect x="291" y="415" width="3" height="9" fill="#c0c0c0"/>
<rect x="299" y="421" width="3" height="3" fill="#c0c0c0"/>
<rect x="307" y="424" width="3" height="1" fill="#c0c0c0"/>
<rect x="315" y="424" width="3" height="4" fill="#c0c0c0"/>
<rect x="323" y="424" width="3" height="7" fill="#c0c0c0"/>
<rect x="331" y="424" width="3" height="10" fill="#c0c0c0"/>
<rect x="339" y="424" width="3" height="12" fill="#c0c0c0"/>
<rect x="347" y="424" width="3" height="11" fill="#c0c0c0"/>
<rect x="355" y="424" width="3" height="10" fill="#c0c0c0"/>
<rect x="363" y="424" width="3" height="7" fill="#c0c0c0"/>
<rect x="371" y="424" width="3" height="5" fill="#c0c0c0"/>
<rect x="379" y="424" width="3" height="5" fill="#c0c0c0"/>
<rect x="387" y="424" width="3" height="3" fill="#c0c0c0"/>
<rect x="395" y="424" width="3" height="5" fill="#c0c0c0"/>
<rect x="403" y="424" width="3" height="6" fill="#c0c0c0"/>
<rect x="411" y="424" width="3" height="8" fill="#c0c0c0"/>
<rect x="419" y="424" width="3" height="10" fill="#c0c0c0"/>
<rect x="427" y="424" width="3" height="12" fill="#c0c0c0"/>
<rect x="435" y="424" width="3" height="13" fill="#c0c0c0"/>
<rect x="443" y="424" width="3" height="12" fill="#c0c0c0"/>
<rect x="451" y="424" width="3" height="12" fill="#c0c0c0"/>
<rect x="459" y="424" width="3" height="8" fill="#c0c0c0"/>
<rect x="467" y="424" width="3" height="5" fill="#c0c0c0"/>
<rect x="475" y="424" width="3" height="2" fill="#c0c0c0"/>
<rect x="483" y="423" width="3" height="1" fill="#c0c0c0"/>
<rect x="507" y="423" width="3" height="1" fill="#c0c0c0"/>
<rect x="515" y="421" width="3" height="3" fill="#c0c0c0"/>
<rect x="523" y="420" width="3" height="4" fill="#c0c0c0"/>
<rect x="531" y="417" width="3" height="7" fill="#c0c0c0"/>
<rect x="539" y="414" width="3" height="10" fill="#c0c0c0"/>
<rect x="547" y="413" width="3" height="11" fill="#c0c0c0"/>
<rect x="555" y="411" width="3" height="13" fill="#c0c0c0"/>
<rect x="563" y="408" width="3" height="16" fill="#c0c0c0"/>
<rect x="571" y="409" width="3" height="15" fill="#c0c0c0"/>
<rect x="579" y="409" width="3" height="15" fill="#c0c0c0"/>
<rect x="587" y="412" width="3" height="12" fill="#c0c0c0"/>
<rect x="595" y="415" width="3" height="9" fill="#c0c0c0"/>
<rect x="603" y="417" width="3" height="7" fill="#c0c0c0"/>
<rect x="611" y="418" width="3" height="6" fill="#c0c0c0"/>
<rect x="619" y="419" width="3" height="5" fill="#c0c0c0"/>
<rect x="627" y="419" width="3" height="5" fill="#c0c0c0"/>
<rect x="635" y="415" width="3" height="9" fill="#c0c0c0"/>
<rect x="643" y="412" width="3" height="12" fill="#c0c0c0"/>
<rect x="651" y="408" width="3" height="16" fill="#c0c0c0"/>
<rect x="659" y="403" width="3" height="21" fill="#c0c0c0"/>
<rect x="667" y="401" width="3" height="23" fill="#c0c0c0"/>
<rect x="675" y="400" width="3" height="24" fill="#c0c0c0"/>
<rect x="683" y="402" width="3" height="22" fill="#c0c0c0"/>
<rect x="691" y="403" width="3" height="21" fill="#c0c0c0"/>
<rect x="699" y="403" width="3" height="21" fill="#c0c0c0"/>
<rect x="707" y="406" width="3" height="18" fill="#c0c0c0"/>
<rect x="715" y="410" width="3" height="14" fill="#c0c0c0"/>
<rect x="723" y="415" width="3" height="9" fill="#c0c0c0"/>
<rect x="731" y="418" width="3" height="6" fill="#c0c0c0"/>
<rect x="739" y="419" width="3" height="5" fill="#c0c0c0"/>
<rect x="747" y="420" width="3" height="4" fill="#c0c0c0"/>
<rect x="755" y="422" width="3" height="2" fill="#c0c0c0"/>
<rect x="763" y="421" width="3" height="3" fill="#c0c0c0"/>
<rect x="771" y="421" width="3" height="3" fill="#c0c0c0"/>
<rect x="787" y="424" width="3" height="2" fill="#c0c0c0"/>
<rect x="795" y="424" width="3" height="5" fill="#c0c0c0"/>
<rect x="803" y="424" width="3" height="6" fill="#c0c0c0"/>
<rect x="811" y="424" width="3" height="8" fill="#c0c0c0"/>
<rect x="819" y="424" width="3" height="11" fill="#c0c0c0"/>
<rect x="827" y="424" width="3" height="15" fill="#c0c0c0"/>
<rect x="835" y="424" width="3" height="17" fill="#c0c0c0"/>
<rect x="843" y="424" width="3" height="20" fill="#c0c0c0"/>
<rect x="851" y="424" width="3" height="23" fill="#c0c0c0"/>
<rect x="859" y="424" width="3" height="25" fill="#c0c0c0"/>
<rect x="867" y="424" width="3" height="24" fill="#c0c0c0"/>
<rect x="875" y="424" width="3" height="20" fill="#c0c0c0"/>
<rect x="883" y="424" width="3" height="16" fill="#c0c0c0"/>
<rect x="891" y="424" width="3" height="15" fill="#c0c0c0"/>
<rect x="899" y="424" width="3" height="16" fill="#c0c0c0"/>
<rect x="907" y="424" width="3" height="18" fill="#c0c0c0"/>
<rect x="915" y="424" width="3" height="19" fill="#c0c0c0"/>
<polyline points="4.5,439.8 12.5,441.3 20.5,442.8 28.5,444.4 36.5,446.0 44.5,447.5 52.5,448.9 60.5,449.7 68.5,449.0 76.5,448.5 84.5,447.8 92.5,446.7 100.5,444.8 108.5,442.5 116.5,439.8 124.5,437.3 132.5,434.7 140.5,432.0 148.5,428.9 156.5,425.0 164.5,420.7 172.5,416.6 180.5,412.8 188.5,409.5 196.5,406.6 204.5,404.3 212.5,402.7 220.5,401.9 228.5,401.8 236.5,402.2 244.5,402.8 252.5,403.2 260.5,403.5 268.5,403.6 276.5,404.0 284.5,404.6 292.5,405.6 300.5,407.2 308.5,409.4 316.5,412.1 324.5,415.3 332.5,419.0 340.5,423.0 348.5,426.3 356.5,428.9 364.5,430.8 372.5,431.7 380.5,432.1 388.5,432.1 396.5,431.8 404.5,431.4 412.5,431.0 420.5,430.8 428.5,431.0 436.5,431.6 444.5,432.3 452.5,433.1 460.5,433.6 468.5,433.7 476.5,433.2 484.5,432.1 492.5,431.0 500.5,429.7 508.5,428.2 516.5,426.6 524.5,424.8 532.5,423.2 540.5,421.5 548.5,420.1 556.5,418.7 564.5,417.0 572.5,415.3 580.5,413.8 588.5,412.8 596.5,412.2 604.5,412.1 612.5,412.5 620.5,413.1 628.5,414.0 636.5,414.8 644.5,415.1 652.5,414.9 660.5,414.0 668.5,412.4 676.5,410.5 684.5,408.7 692.5,407.0 700.5,405.2 708.5,404.2 716.5,404.1 724.5,404.9 732.5,406.5 740.5,408.6 748.5,410.9 756.5,413.1 764.5,415.0 772.5,417.0 780.5,419.0 788.5,420.7 796.5,422.3 804.5,423.7 812.5,425.0 820.5,426.7 828.5,428.7 836.5,430.9 844.5,433.5 852.5,436.0 860.5,438.5 868.5,440.6 876.5,442.2 884.5,443.1 892.5,443.6 900.5,443.6 908.5,443.7 916.5,443.5" fill="none" stroke="#ff0000" stroke-width="1"/>
</g>
<text x="8.7" y="406" font-size="10.2" fill="#000" textLength="152.8" lengthAdjust="spacingAndGlyphs" stroke="#000" stroke-width="0.12">MACD(12,26,9) -0.002450 -0.002487</text>
<rect x="1167" y="394" width="2" height="1" fill="#000"/>
<text x="1170.5" y="404" font-size="10.2" fill="#000" textLength="36.5" lengthAdjust="spacingAndGlyphs" stroke="#000" stroke-width="0.12">0.004043</text>
<rect x="1167" y="424" width="2" height="1" fill="#000"/>
<text x="1170.5" y="428" font-size="10.2" fill="#000" textLength="17.8" lengthAdjust="spacingAndGlyphs" stroke="#000" stroke-width="0.12">0.00</text>
<rect x="1167" y="455" width="2" height="1" fill="#000"/>
<text x="1170.5" y="453" font-size="10.2" fill="#000" textLength="43.0" lengthAdjust="spacingAndGlyphs" stroke="#000" stroke-width="0.12">-0.004187</text>
<g clip-path="url(#cr)">
<line x1="5" y1="482.5" x2="1166" y2="482.5" stroke="#c0c0c0" stroke-width="1" stroke-dasharray="3,3"/>
<line x1="5" y1="512.5" x2="1166" y2="512.5" stroke="#c0c0c0" stroke-width="1" stroke-dasharray="3,3"/>
<polyline points="4.5,508.5 12.5,507.9 20.5,508.0 28.5,511.2 36.5,506.6 44.5,504.0 52.5,498.6 60.5,500.6 68.5,499.1 76.5,499.1 84.5,503.4 92.5,499.2 100.5,494.5 108.5,492.3 116.5,491.9 124.5,494.1 132.5,493.1 140.5,488.6 148.5,484.3 156.5,482.5 164.5,482.1 172.5,484.8 180.5,486.1 188.5,489.3 196.5,492.4 204.5,494.8 212.5,495.1 220.5,493.1 228.5,490.3 236.5,489.6 244.5,486.1 252.5,484.8 260.5,486.0 268.5,487.7 276.5,500.3 284.5,499.9 292.5,503.3 300.5,506.0 308.5,506.0 316.5,503.5 324.5,506.3 332.5,506.4 340.5,507.4 348.5,499.0 356.5,498.4 364.5,494.8 372.5,495.1 380.5,497.4 388.5,495.8 396.5,501.9 404.5,502.9 412.5,504.7 420.5,504.9 428.5,506.4 436.5,504.8 444.5,500.7 452.5,502.2 460.5,493.4 468.5,492.0 476.5,491.2 484.5,490.6 492.5,498.0 500.5,497.7 508.5,495.0 516.5,491.9 524.5,493.3 532.5,488.7 540.5,486.6 548.5,490.1 556.5,487.9 564.5,485.7 572.5,491.6 580.5,493.3 588.5,497.8 596.5,500.3 604.5,497.3 612.5,496.9 620.5,497.8 628.5,495.5 636.5,487.5 644.5,485.4 652.5,483.9 660.5,482.0 668.5,483.3 676.5,486.6 684.5,492.9 692.5,492.5 700.5,489.8 708.5,497.0 716.5,499.8 724.5,501.9 732.5,500.3 740.5,498.9 748.5,497.2 756.5,499.0 764.5,494.6 772.5,496.4 780.5,502.7 788.5,502.8 796.5,504.0 804.5,501.4 812.5,504.3 820.5,507.6 828.5,509.7 836.5,508.5 844.5,510.5 852.5,511.6 860.5,511.7 868.5,504.3 876.5,497.1 884.5,496.1 892.5,500.8 900.5,502.8 908.5,506.7 916.5,507.1" fill="none" stroke="#1e90ff" stroke-width="1"/>
</g>
<text x="8.7" y="471" font-size="10.2" fill="#000" textLength="67.3" lengthAdjust="spacingAndGlyphs" stroke="#000" stroke-width="0.12">RSI(14) 37.1295</text>
<rect x="1167" y="459" width="2" height="1" fill="#000"/>
<rect x="1167" y="534" width="2" height="1" fill="#000"/>
<text x="1170.3" y="469" font-size="10.2" fill="#000" textLength="14.5" lengthAdjust="spacingAndGlyphs" stroke="#000" stroke-width="0.12">100</text>
<text x="1169.4" y="486" font-size="10.2" fill="#000" textLength="9.2" lengthAdjust="spacingAndGlyphs" stroke="#000" stroke-width="0.12">70</text>
<text x="1169.4" y="516" font-size="10.2" fill="#000" textLength="9.2" lengthAdjust="spacingAndGlyphs" stroke="#000" stroke-width="0.12">30</text>
<text x="1170" y="532" font-size="10.2" fill="#000" textLength="5" lengthAdjust="spacingAndGlyphs" stroke="#000" stroke-width="0.12">0</text>
<polygon points="7,33 14,33 10.5,29" fill="#000"/>
<text x="19.4" y="34" font-size="10.2" fill="#000" textLength="63.3" lengthAdjust="spacingAndGlyphs" stroke="#000" stroke-width="0.12">EURUSD,Daily</text>
<text x="89.5" y="34" font-size="10.2" fill="#000" textLength="140.0" lengthAdjust="spacingAndGlyphs" stroke="#000" stroke-width="0.12">1.10015 1.10061 1.09929 1.09974</text>
<defs>
<linearGradient id="gs" x1="0" y1="0" x2="0" y2="1"><stop offset="0" stop-color="#5b5bff"/><stop offset="1" stop-color="#3434e6"/></linearGradient>
<linearGradient id="gp" x1="0" y1="0" x2="0" y2="1"><stop offset="0" stop-color="#3b33e3"/><stop offset="1" stop-color="#0000a8"/></linearGradient>
<linearGradient id="gb" x1="0" y1="0" x2="0" y2="1"><stop offset="0" stop-color="#f2f2f2"/><stop offset="0.45" stop-color="#ececec"/><stop offset="0.5" stop-color="#dcdcdc"/><stop offset="1" stop-color="#d4d4d4"/></linearGradient>
</defs>
<rect x="5" y="40" width="223" height="68" fill="#ffffff"/>
<path d="M7,42H59V66H116V106H7Z" fill="#0000c8"/>
<rect x="8" y="43" width="50" height="24" fill="url(#gs)"/>
<rect x="8" y="67" width="107" height="38" fill="url(#gp)"/>
<rect x="11" y="66" width="44" height="1" fill="#8080ff"/>
<path d="M174,42H226V106H118V66H174Z" fill="#0000c8"/>
<rect x="175" y="43" width="50" height="24" fill="url(#gs)"/>
<rect x="119" y="67" width="106" height="38" fill="url(#gp)"/>
<rect x="178" y="66" width="44" height="1" fill="#8080ff"/>
<text x="19.4" y="58" font-size="12.4" fill="#ffffff" textLength="25.6" lengthAdjust="spacingAndGlyphs">SELL</text>
<text x="187.6" y="58" font-size="12.4" fill="#ffffff" textLength="23.3" lengthAdjust="spacingAndGlyphs">BUY</text>
<text x="27.8" y="97" font-size="12.5" fill="#fff" textLength="22.7" lengthAdjust="spacingAndGlyphs" font-weight="bold">1.09</text>
<text x="55.4" y="97.3" font-size="35.5" fill="#fff" textLength="33.5" lengthAdjust="spacingAndGlyphs">97</text>
<text x="94.1" y="81" font-size="12.5" fill="#fff" textLength="6.7" lengthAdjust="spacingAndGlyphs" font-weight="bold">4</text>
<text x="137.6" y="97" font-size="12.5" fill="#fff" textLength="22.8" lengthAdjust="spacingAndGlyphs" font-weight="bold">1.09</text>
<text x="166.6" y="97.3" font-size="35.5" fill="#fff" textLength="33.4" lengthAdjust="spacingAndGlyphs">99</text>
<text x="205.4" y="81" font-size="12.5" fill="#fff" textLength="6.2" lengthAdjust="spacingAndGlyphs" font-weight="bold">2</text>
<rect x="61" y="42" width="111" height="22" fill="#a8a8b0"/>
<rect x="62" y="43" width="109" height="20" fill="#ffffff"/>
<rect x="63" y="44" width="19" height="18" fill="url(#gb)"/>
<rect x="82" y="43" width="1" height="20" fill="#a8a8b0"/>
<rect x="151" y="44" width="19" height="18" fill="url(#gb)"/>
<rect x="150" y="43" width="1" height="20" fill="#a8a8b0"/>
<polygon points="69,51 74,51 71.5,54" fill="#4a6ad8"/>
<polygon points="158,54 163,54 160.5,51" fill="#4a6ad8"/>
<text x="123.7" y="57" font-size="12.4" fill="#000" textLength="23.3" lengthAdjust="spacingAndGlyphs">5.00</text>
<rect x="0" y="556" width="1209" height="1" fill="#e3e3e3"/>
<rect x="0" y="558" width="1209" height="1" fill="#000"/>
<rect x="0" y="559" width="1209" height="18" fill="#f0f0f0"/>
<rect x="0" y="577" width="1209" height="3" fill="#f8f8f8"/>
<rect x="0" y="558" width="1" height="19" fill="#6e6e6e"/>
<rect x="5" y="558" width="104" height="19" fill="#000"/>
<rect x="6" y="558" width="102" height="18" fill="#ffffff"/>
<text x="17" y="572.5" font-size="12.4" fill="#000" textLength="80" lengthAdjust="spacingAndGlyphs">EURUSD,Daily</text>
<text x="120" y="572.5" font-size="12.4" fill="#6d6d6d" textLength="82" lengthAdjust="spacingAndGlyphs">AUDUSD,Daily</text>
<text x="223.4" y="572.5" font-size="12.4" fill="#6d6d6d" textLength="78.2" lengthAdjust="spacingAndGlyphs">USDCHF,Daily</text>
<text x="324" y="572.5" font-size="12.4" fill="#6d6d6d" textLength="81" lengthAdjust="spacingAndGlyphs">USDCAD,Daily</text>
<text x="426.8" y="572.5" font-size="12.4" fill="#6d6d6d" textLength="82.9" lengthAdjust="spacingAndGlyphs">USDCNH,Daily</text>
<text x="532" y="572.5" font-size="12.4" fill="#6d6d6d" textLength="81" lengthAdjust="spacingAndGlyphs">XAUUSD,Daily</text>
<text x="635" y="572.5" font-size="12.4" fill="#6d6d6d" textLength="46.6" lengthAdjust="spacingAndGlyphs">DJ30,H4</text>
<text x="705.4" y="572.5" font-size="12.4" fill="#6d6d6d" textLength="71.4" lengthAdjust="spacingAndGlyphs">USDOil,Daily</text>
<text x="799.2" y="572.5" font-size="12.4" fill="#6d6d6d" textLength="66.5" lengthAdjust="spacingAndGlyphs">USDCHF,H1</text>
<text x="889" y="572.5" font-size="12.4" fill="#6d6d6d" textLength="80.2" lengthAdjust="spacingAndGlyphs">GBPUSD,Daily</text>
<text x="993.3" y="572.5" font-size="12.4" fill="#6d6d6d" textLength="67.2" lengthAdjust="spacingAndGlyphs">EURUSD,H1</text>
<text x="1084.2" y="572.5" font-size="12.4" fill="#6d6d6d" textLength="68.0" lengthAdjust="spacingAndGlyphs">GBPAUD,H1</text>
<rect x="213" y="561" width="1" height="14" fill="#6d6d6d"/>
<rect x="313" y="561" width="1" height="14" fill="#6d6d6d"/>
<rect x="417" y="561" width="1" height="14" fill="#6d6d6d"/>
<rect x="521" y="561" width="1" height="14" fill="#6d6d6d"/>
<rect x="625" y="561" width="1" height="14" fill="#6d6d6d"/>
<rect x="694" y="561" width="1" height="14" fill="#6d6d6d"/>
<rect x="789" y="561" width="1" height="14" fill="#6d6d6d"/>
<rect x="877" y="561" width="1" height="14" fill="#6d6d6d"/>
<rect x="981" y="561" width="1" height="14" fill="#6d6d6d"/>
<rect x="1073" y="561" width="1" height="14" fill="#6d6d6d"/>
<rect x="1165" y="561" width="1" height="14" fill="#6d6d6d"/>
<rect x="1175" y="563" width="1" height="9" fill="#fbf3c8"/>
<polygon points="1185,563 1185,571 1181,567" fill="#a0a0a0"/>
<polygon points="1200,563 1200,571 1204,567" fill="#000"/>
</svg></body></html>
